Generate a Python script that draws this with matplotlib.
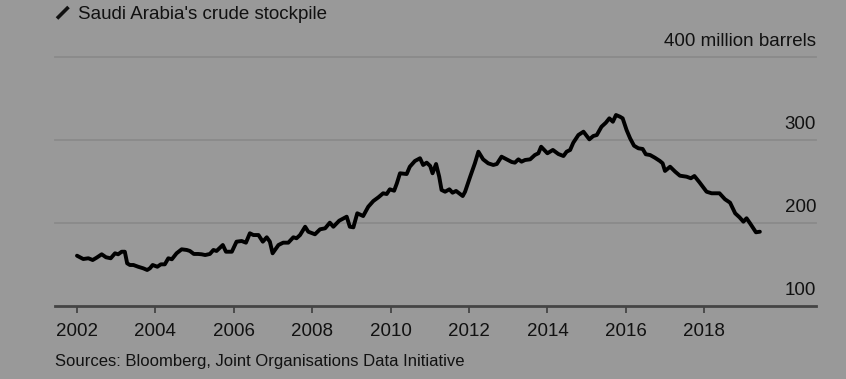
import matplotlib
matplotlib.use("Agg")
import matplotlib.pyplot as plt
from matplotlib.lines import Line2D

plt.rcParams['font.family'] = ['Liberation Sans', 'DejaVu Sans']

# Data (decimal year, million barrels)
years = [2002.00, 2002.16, 2002.29, 2002.40, 2002.50, 2002.63, 2002.74, 2002.86, 2002.97, 2003.05,
         2003.14, 2003.22, 2003.28, 2003.35, 2003.44, 2003.56, 2003.69, 2003.79, 2003.86, 2003.93,
         2004.05, 2004.14, 2004.24, 2004.33, 2004.42, 2004.54, 2004.67, 2004.80, 2004.88, 2004.98,
         2005.09, 2005.18, 2005.27, 2005.39, 2005.48, 2005.56, 2005.72, 2005.80, 2005.95, 2006.07,
         2006.20, 2006.31, 2006.41, 2006.50, 2006.63, 2006.74, 2006.84, 2006.92, 2006.99, 2007.14,
         2007.26, 2007.39, 2007.52, 2007.60, 2007.69, 2007.82, 2007.90, 2008.07, 2008.20, 2008.33,
         2008.45, 2008.54, 2008.69, 2008.88, 2008.96, 2009.05, 2009.15, 2009.30, 2009.43, 2009.56,
         2009.69, 2009.81, 2009.90, 2009.98, 2010.09, 2010.16, 2010.24, 2010.41, 2010.49, 2010.62,
         2010.75, 2010.83, 2010.92, 2011.01, 2011.07, 2011.16, 2011.24, 2011.30, 2011.39, 2011.50,
         2011.58, 2011.67, 2011.84, 2011.90, 2012.03, 2012.15, 2012.24, 2012.36, 2012.49, 2012.62,
         2012.71, 2012.83, 2012.96, 2013.09, 2013.17, 2013.26, 2013.34, 2013.43, 2013.56, 2013.68,
         2013.77, 2013.84, 2014.00, 2014.14, 2014.28, 2014.41, 2014.49, 2014.58, 2014.66, 2014.79,
         2014.92, 2015.07, 2015.17, 2015.26, 2015.38, 2015.49, 2015.58, 2015.67, 2015.75, 2015.85,
         2015.92, 2016.02, 2016.11, 2016.21, 2016.32, 2016.43, 2016.51, 2016.62, 2016.74, 2016.87,
         2016.94, 2017.00, 2017.13, 2017.26, 2017.38, 2017.55, 2017.66, 2017.75, 2017.88, 2018.06,
         2018.19, 2018.39, 2018.53, 2018.66, 2018.79, 2018.90, 2019.00, 2019.08, 2019.17, 2019.32,
         2019.42]
stockpile = [160.6, 156.6, 157.5, 155.4, 158.2, 162.3, 158.7, 157.5, 163.5, 162.3,
             165.4, 165.4, 151.4, 149.4, 149.4, 147.3, 145.4, 143.4, 145.4, 149.4,
             147.3, 150.2, 150.2, 157.5, 156.3, 163.5, 168.3, 167.5, 166.3, 162.7,
             162.7, 162.3, 161.4, 162.7, 167.5, 166.3, 173.5, 165.4, 165.4, 177.5,
             178.3, 176.3, 187.6, 185.5, 185.5, 177.5, 182.8, 177.5, 163.5, 173.5,
             176.3, 176.3, 182.8, 181.6, 185.5, 195.5, 189.5, 186.4, 192.4, 193.6,
             200.4, 195.5, 202.8, 207.6, 195.5, 194.8, 211.7, 208.4, 219.6, 226.5,
             231.0, 235.8, 234.9, 240.6, 238.9, 247.8, 259.9, 259.0, 267.8, 274.7,
             278.0, 269.9, 272.7, 268.7, 259.9, 271.1, 255.8, 239.8, 237.7, 240.6,
             236.5, 238.6, 232.5, 237.7, 255.8, 271.9, 285.9, 276.7, 271.9, 269.9,
             271.1, 279.9, 276.7, 273.5, 272.7, 276.7, 273.9, 275.9, 276.7, 281.9,
             284.0, 291.9, 284.0, 288.0, 283.1, 280.7, 285.9, 288.0, 296.7, 306.0,
             310.0, 300.8, 304.8, 306.0, 316.0, 320.8, 326.1, 322.0, 330.1, 328.1,
             326.1, 312.0, 302.0, 293.1, 290.0, 289.2, 282.8, 281.9, 278.7, 274.7,
             271.9, 262.7, 267.8, 261.8, 257.0, 255.8, 253.9, 256.6, 249.0, 237.7,
             235.8, 235.8, 228.6, 224.5, 211.7, 206.9, 201.6, 205.7, 199.6, 188.8,
             189.5]

x_ticks = [2002, 2004, 2006, 2008, 2010, 2012, 2014, 2016, 2018]
x_tick_labels = [str(t) for t in x_ticks]
y_levels = [100, 200, 300, 400]
y_labels = ['100', '200', '300', '400 million barrels']

title = "Saudi Arabia's crude stockpile"
source = "Sources: Bloomberg, Joint Organisations Data Initiative"

BG = '#999999'
W, H = 846, 379
fig = plt.figure(figsize=(W / 100, H / 100), dpi=100, facecolor=BG)
ax = fig.add_axes([55 / W, 1 - 306 / H, (816 - 55) / W, (306 - 57) / H])
ax.set_facecolor(BG)

ax.set_xlim(2001.439, 2020.852)
ax.set_ylim(100, 400)

for v in y_levels[1:]:
    ax.axhline(v, color='#8a8a8a', lw=1.3, zorder=1, clip_on=False)

ax.plot(years, stockpile, color='black', lw=2.8, solid_joinstyle='round',
        solid_capstyle='round', zorder=3)

for s in ['top', 'right', 'left']:
    ax.spines[s].set_visible(False)
ax.spines['bottom'].set_color('#444444')
ax.spines['bottom'].set_linewidth(2.0)
ax.set_yticks([])
ax.set_xticks(x_ticks)
ax.set_xticklabels(x_tick_labels)
ax.tick_params(axis='x', length=5, width=1.3, color='#444444', pad=7.5,
               labelsize=13.5, labelcolor='#111111')

for v, lab in zip(y_levels, y_labels):
    ax.annotate(lab, xy=(1, v), xycoords=('axes fraction', 'data'),
                xytext=(0, 8), textcoords='offset points',
                ha='right', va='baseline', fontsize=13.5, color='#111111')

fig.text(78 / W, 1 - 19 / H, title, ha='left', va='baseline',
         fontsize=13.5, color='#111111')
fig.add_artist(Line2D([57 / W, 68.5 / W], [1 - 18.5 / H, 1 - 7 / H],
                      transform=fig.transFigure, color='#111111', lw=2.6,
                      solid_capstyle='butt'))
fig.text(55 / W, 1 - 366 / H, source, ha='left', va='baseline',
         fontsize=12, color='#111111')

fig.savefig('out.png', dpi=100, facecolor=BG)
